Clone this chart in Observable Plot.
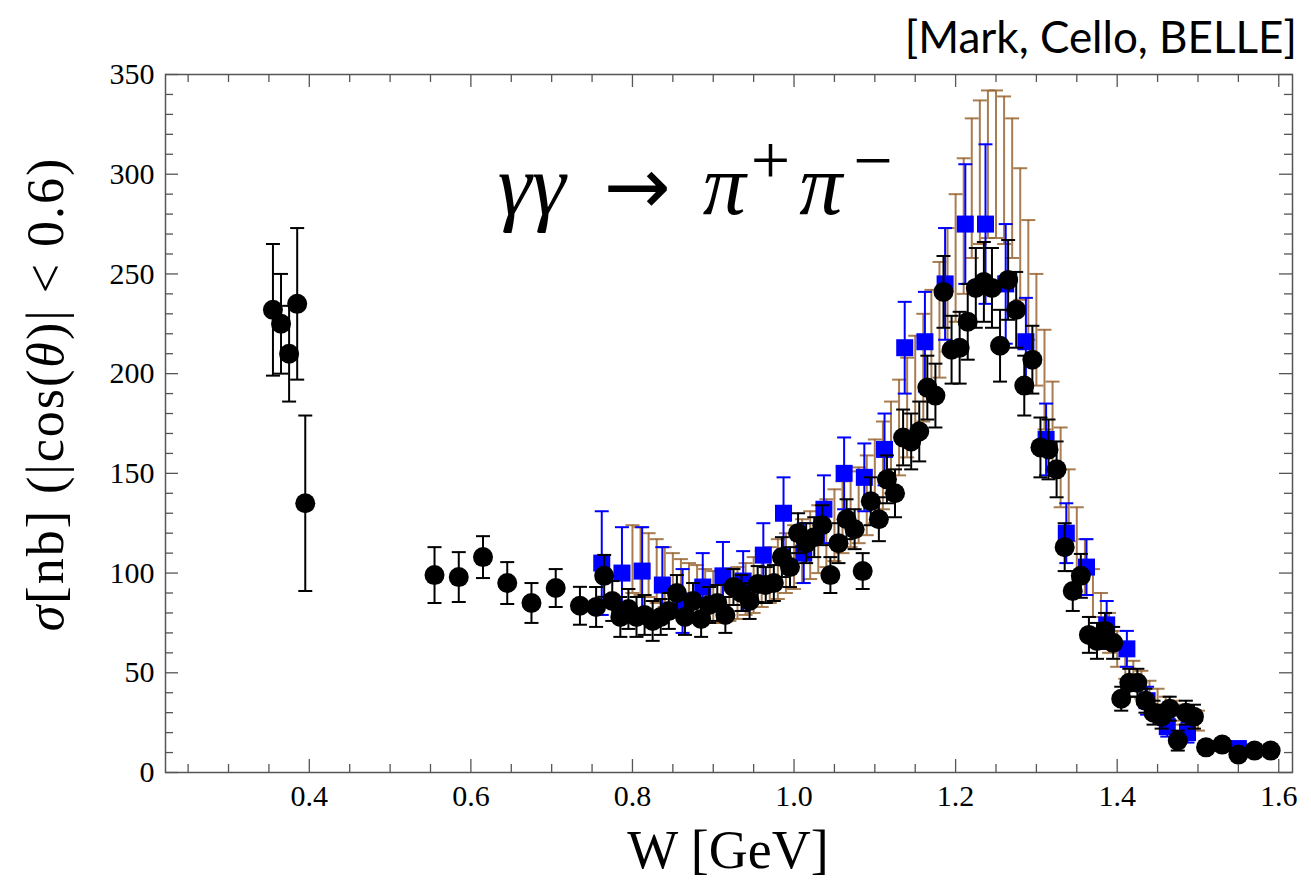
<!DOCTYPE html>
<html><head><meta charset="utf-8">
<script src="https://cdn.jsdelivr.net/npm/d3@7"></script>
<script src="https://cdn.jsdelivr.net/npm/@observablehq/plot@0.6"></script>
<style>body{margin:0;background:#fff;}</style>
</head><body><div id="chart"></div>
<script>
// ---- Mark II (black circles) ----
const markW = [0.355,0.365,0.375,0.385,0.395,0.555,0.585,0.615,0.645,0.675,0.705,0.735,0.755,0.765,0.775,0.785,0.795,0.805,0.815,0.825,0.835,0.845,0.855,0.865,0.875,0.885,0.895,0.905,0.915,0.925,0.935,0.945,0.955,0.965,0.975,0.985,0.995,1.005,1.015,1.025,1.035,1.045,1.055,1.065,1.075,1.085,1.095,1.105,1.115,1.125,1.135,1.145,1.155,1.165,1.175,1.185,1.195,1.205,1.215,1.225,1.235,1.245,1.255,1.265,1.275,1.285,1.295,1.305,1.315,1.325,1.335,1.345,1.355,1.365,1.375,1.385,1.395,1.405,1.415,1.425,1.435,1.445,1.455,1.465,1.475,1.485,1.495,1.51,1.53,1.55,1.57,1.59];
const markS = [232,225,210,235,135,99,98,108,95,85,92.5,83.6,83,98.6,86,78,82,78,79,76,78,81,90,78,86,77,84,85,79,93,90,86,94.5,94,95,108,103,120,115,118,124,99,115,127,122,101,136,127,147,140,168,166,171,193,189,241,212,213,226,243,246,243,214,247,232,194,207,163,162,152,113,91,98.6,69,66,71,65,37,45,45,36,30,28,32,16,30,28,12.6,14,9,11,11];
const markE = [33,25,24,38,44,14,12.5,10.5,10.5,10,9.5,9.5,10,10.5,10,10,10,10,10,10,9,9,9,9,9,9,9,9,9,9,9,9,9,9,9,10,10,10,10,10,10,9,10,10,10,9,12,11,12,12,14,14,15,16,16,18,17,18,19,20,20,20,18,20,19,15,17,15,15,14,12,10,11,9,9,9,8,6,7,7,6,6,6,6,5,6,6,3,3,3,3,3];

// ---- CELLO (blue squares) ----
const celloW = [0.762,0.787,0.812,0.837,0.862,0.887,0.912,0.937,0.962,0.987,1.012,1.037,1.062,1.087,1.112,1.137,1.162,1.187,1.212,1.237,1.262,1.287,1.312,1.337,1.362,1.387,1.412,1.437,1.462,1.487,1.55];
const celloS = [105,100,101,94,86,93,98.6,96,109,130,110,132,150,148,162,213,216,245,275,275,245,216,167,120,103,74,62,36,23,20,12];
const celloE = [26,23,22,19,16,17,17,15,16,18,15,17,18,17,18,23,25,28,30,40,30,22,18,15,14,12,9,7,5,5,3];

// ---- BELLE (brown error bars) ----
const belleW = [0.80,0.81,0.82,0.83,0.84,0.85,0.86,0.87,0.88,0.89,0.90,0.91,0.92,0.93,0.94,0.95,0.96,0.97,0.98,0.99,1.00,1.01,1.02,1.03,1.04,1.05,1.06,1.07,1.08,1.09,1.10,1.11,1.12,1.13,1.14,1.15,1.16,1.17,1.18,1.19,1.20,1.21,1.22,1.23,1.24,1.25,1.26,1.27,1.28,1.29,1.30,1.31,1.32,1.33,1.34,1.35,1.36,1.37,1.38,1.39,1.40,1.41,1.42,1.43,1.44,1.45,1.46,1.47,1.48,1.49,1.50];
const belleS = [107,106,104,101,98,95,93,91,90,89,88,88,89,90,92,94,97,99,102,105,108,111,114,117,120,124,128,132,134,139,146,154,163,173,183,193,203,214,227,242,258,274,293,301,305,305,302,293,270,247,222,197,174,153,134,117,103,90,79,70,62,55,49,44,40,36,33,31,29,27,26];
const belleE = [17,17,16,16,15,15,14,14,14,13,13,13,13,13,13,14,14,14,15,15,16,16,17,17,17,18,18,19,19,20,21,22,23,24,25,26,27,28,29,31,32,34,35,36,37,37,37,35,33,30,28,25,22,20,18,16,14,12,11,10,9,8,7,7,6,6,5,5,5,5,5];

// ---- axes ----
const xDomain = [0.222, 1.617];
const yDomain = [0, 350];
const xMajorTicks = [0.4,0.6,0.8,1.0,1.2,1.4,1.6];
const xTickLabels = ["0.4","0.6","0.8","1.0","1.2","1.4","1.6"];
const xMinorTicks = [0.25,0.3,0.35,0.45,0.5,0.55,0.65,0.7,0.75,0.85,0.9,0.95,1.05,1.1,1.15,1.25,1.3,1.35,1.45,1.5,1.55];
const yMajorTicks = [0,50,100,150,200,250,300,350];
const yTickLabels = ["0","50","100","150","200","250","300","350"];
const yMinorTicks = [10,20,30,40,60,70,80,90,110,120,130,140,160,170,180,190,210,220,230,240,260,270,280,290,310,320,330,340];

const titleText = "[Mark, Cello, BELLE]";
const xLabel = "W [GeV]";

const toRows = (W,S,E) => W.map((w,i)=>({w, s:S[i], lo:S[i]-E[i], hi:S[i]+E[i]}));
const mark = toRows(markW, markS, markE);
const cello = toRows(celloW, celloS, celloE);
const belle = toRows(belleW, belleS, belleE);

const cap = {draw(ctx, size){ const w = Math.sqrt(size/Math.PI); ctx.moveTo(-w,0); ctx.lineTo(w,0); }};
const brown = "#996633", frameCol = "#555";

function errMarks(data, color, capR, sw, opacity){
  return [
    Plot.ruleX(data, {x:"w", y1:"lo", y2:"hi", stroke:color, strokeWidth:sw, strokeOpacity:opacity}),
    Plot.dot(data, {x:"w", y:"hi", symbol:cap, r:capR, stroke:color, fill:"none", strokeWidth:sw, strokeOpacity:opacity}),
    Plot.dot(data, {x:"w", y:"lo", symbol:cap, r:capR, stroke:color, fill:"none", strokeWidth:sw, strokeOpacity:opacity})
  ];
}

const xMajLen = 6.5, xMinLen = 4, yMajLen = 0.0161, yMinLen = 0.0099;

const plot = Plot.plot({
  width: 1311, height: 886,
  marginLeft: 165, marginRight: 19, marginTop: 74, marginBottom: 114,
  style: {fontFamily: "'Liberation Serif', serif", fontSize: "30px", color: "black", background: "white"},
  x: {domain: xDomain, label: null},
  y: {domain: yDomain, label: null},
  marks: [
    ...errMarks(belle, brown, 7, 2, 0.85),
    ...errMarks(cello, "#0000ff", 7, 2, 1),
    Plot.dot(cello, {x:"w", y:"s", symbol:"square", r:9.6, fill:"#0000ff"}),
    ...errMarks(mark, "black", 7, 2, 1),
    Plot.dot(mark, {x:"w", y:"s", r:10, fill:"black"}),
    // frame ticks (inward)
    Plot.ruleX(xMajorTicks, {x:d=>d, y1:yDomain[0], y2:yDomain[0]+xMajLen, stroke:frameCol, strokeWidth:1.3}),
    Plot.ruleX(xMinorTicks, {x:d=>d, y1:yDomain[0], y2:yDomain[0]+xMinLen, stroke:frameCol, strokeWidth:1.3}),
    Plot.ruleX(xMajorTicks, {x:d=>d, y1:yDomain[1], y2:yDomain[1]-xMajLen, stroke:frameCol, strokeWidth:1.3}),
    Plot.ruleX(xMinorTicks, {x:d=>d, y1:yDomain[1], y2:yDomain[1]-xMinLen, stroke:frameCol, strokeWidth:1.3}),
    Plot.ruleY(yMajorTicks, {y:d=>d, x1:xDomain[0], x2:xDomain[0]+yMajLen, stroke:frameCol, strokeWidth:1.3}),
    Plot.ruleY(yMinorTicks, {y:d=>d, x1:xDomain[0], x2:xDomain[0]+yMinLen, stroke:frameCol, strokeWidth:1.3}),
    Plot.ruleY(yMajorTicks, {y:d=>d, x1:xDomain[1], x2:xDomain[1]-yMajLen, stroke:frameCol, strokeWidth:1.3}),
    Plot.ruleY(yMinorTicks, {y:d=>d, x1:xDomain[1], x2:xDomain[1]-yMinLen, stroke:frameCol, strokeWidth:1.3}),
    Plot.frame({stroke: frameCol, strokeWidth: 1.5}),
    Plot.axisX({ticks: xMajorTicks, tickSize: 0, tickPadding: 12, tickFormat: d => xTickLabels[xMajorTicks.indexOf(d)], label: null}),
    Plot.axisY({ticks: yMajorTicks, tickSize: 0, tickPadding: 11, tickFormat: d => yTickLabels[yMajorTicks.indexOf(d)], label: null})
  ]
});

const svg = d3.select(plot);
svg.append("text").attr("x", 1297).attr("y", 53).attr("text-anchor","end")
  .attr("font-family","Lato, 'Open Sans', sans-serif").attr("font-size",44).attr("fill","black").text(titleText);

svg.append("text").attr("x", 728).attr("y", 868).attr("text-anchor","middle")
  .attr("font-family","'Liberation Serif', serif").attr("font-size",54).attr("fill","black").text(xLabel);

const yl = svg.append("text").attr("transform","translate(63,394) rotate(-90)").attr("text-anchor","middle")
  .attr("font-family","'Liberation Serif', serif").attr("font-size",52).attr("letter-spacing","2px").attr("fill","black");
yl.append("tspan").attr("font-style","italic").text("σ");
yl.append("tspan").text("[nb] (|cos(");
yl.append("tspan").attr("font-style","italic").text("θ");
yl.append("tspan").text(")| < 0.6)");

const xs = plot.scale("x"), ys = plot.scale("y");
const ann = svg.append("text").attr("x", xs.apply(0.634)).attr("y", ys.apply(280)).attr("text-anchor","start")
  .attr("font-family","'Liberation Serif', serif").attr("font-size",86).attr("fill","black");
ann.append("tspan").attr("font-style","italic").text("γγ");
ann.append("tspan").attr("dx",38).attr("font-family","'DejaVu Sans', sans-serif").attr("font-size",80).text("→");
ann.append("tspan").attr("dx",32).attr("font-style","italic").text("π");
ann.append("tspan").attr("dx",5).attr("dy",-30).attr("font-size",70).text("+");
ann.append("tspan").attr("dx",9).attr("dy",30).attr("font-style","italic").text("π");
ann.append("tspan").attr("dx",11).attr("dy",-30).attr("font-size",70).text("−");

document.getElementById("chart").appendChild(plot);
</script>
</body></html>
